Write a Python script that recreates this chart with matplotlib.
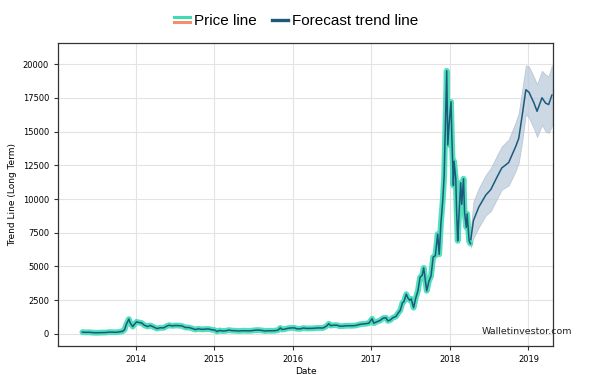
import pandas as pd
import matplotlib
matplotlib.use("Agg")
import matplotlib.pyplot as plt
import matplotlib.dates as mdates
from matplotlib.lines import Line2D
from matplotlib.legend_handler import HandlerBase

# historical price (USD)
price_dates = [
    "2013-04-28", "2013-05-15", "2013-06-01", "2013-06-15", "2013-07-01", "2013-07-15",
    "2013-08-01", "2013-08-15", "2013-09-01", "2013-09-15", "2013-10-01", "2013-10-15",
    "2013-11-01", "2013-11-10", "2013-11-18", "2013-11-30", "2013-12-07", "2013-12-18",
    "2013-12-25", "2014-01-05", "2014-01-15", "2014-01-28", "2014-02-10", "2014-02-25",
    "2014-03-10", "2014-03-25", "2014-04-10", "2014-04-25", "2014-05-10", "2014-05-25",
    "2014-06-05", "2014-06-20", "2014-07-05", "2014-07-20", "2014-08-05", "2014-08-20",
    "2014-09-05", "2014-09-20", "2014-10-05", "2014-10-20", "2014-11-05", "2014-11-20",
    "2014-12-05", "2014-12-20", "2015-01-05", "2015-01-14", "2015-01-25", "2015-02-10",
    "2015-02-25", "2015-03-10", "2015-03-25", "2015-04-10", "2015-04-25", "2015-05-10",
    "2015-05-25", "2015-06-10", "2015-06-25", "2015-07-10", "2015-07-25", "2015-08-10",
    "2015-08-25", "2015-09-10", "2015-09-25", "2015-10-10", "2015-10-25", "2015-11-04",
    "2015-11-12", "2015-11-25", "2015-12-10", "2015-12-25", "2016-01-10", "2016-01-20",
    "2016-02-05", "2016-02-20", "2016-03-05", "2016-03-20", "2016-04-05", "2016-04-20",
    "2016-05-05", "2016-05-20", "2016-06-05", "2016-06-17", "2016-06-25", "2016-07-10",
    "2016-07-25", "2016-08-05", "2016-08-20", "2016-09-05", "2016-09-20", "2016-10-05",
    "2016-10-20", "2016-11-05", "2016-11-20", "2016-12-05", "2016-12-20", "2017-01-04",
    "2017-01-12", "2017-01-25", "2017-02-10", "2017-02-25", "2017-03-10", "2017-03-18",
    "2017-03-30", "2017-04-10", "2017-04-25", "2017-05-05", "2017-05-15", "2017-05-25",
    "2017-06-01", "2017-06-12", "2017-06-20", "2017-06-28", "2017-07-05", "2017-07-16",
    "2017-07-25", "2017-08-05", "2017-08-15", "2017-08-25", "2017-09-01", "2017-09-15",
    "2017-09-25", "2017-10-05", "2017-10-15", "2017-10-25", "2017-11-05", "2017-11-12",
    "2017-11-20", "2017-11-29", "2017-12-05", "2017-12-10", "2017-12-17", "2017-12-22",
    "2017-12-28", "2018-01-06", "2018-01-10", "2018-01-17", "2018-01-20", "2018-01-28",
    "2018-02-01", "2018-02-06", "2018-02-10", "2018-02-20", "2018-02-25", "2018-03-05",
    "2018-03-10", "2018-03-18", "2018-03-22", "2018-03-31", "2018-04-06",
]
price_values = [
    135, 120, 125, 100, 90, 95,
    105, 110, 140, 135, 125, 150,
    200, 320, 700, 1100, 800, 550,
    700, 900, 850, 820, 650, 550,
    630, 520, 400, 460, 450, 580,
    650, 600, 630, 620, 590, 480,
    480, 410, 330, 380, 340, 360,
    370, 320, 280, 180, 260, 220,
    240, 290, 250, 240, 220, 240,
    240, 230, 245, 280, 290, 265,
    220, 240, 235, 245, 285, 450,
    330, 360, 420, 450, 450, 380,
    385, 440, 410, 410, 420, 440,
    450, 440, 570, 760, 620, 650,
    650, 580, 580, 610, 610, 610,
    630, 700, 740, 760, 800, 1130,
    800, 900, 1000, 1180, 1200, 970,
    1040, 1200, 1300, 1550, 1750, 2300,
    2400, 2950, 2650, 2500, 2600, 1950,
    2600, 3200, 4200, 4350, 4900, 3200,
    3900, 4300, 5700, 5800, 7400, 5900,
    8200, 10000, 11700, 15000, 19500, 14000,
    15500, 17200, 14500, 11000, 12800, 11500,
    9100, 6900, 8200, 11200, 9600, 11500,
    9000, 7900, 8900, 6900, 6700,
]

# forecast trend with confidence band
fc_dates = [
    "2018-04-08", "2018-04-20", "2018-05-15", "2018-06-17", "2018-07-10", "2018-08-07",
    "2018-08-30", "2018-10-01", "2018-11-03", "2018-11-17", "2018-12-02", "2018-12-20",
    "2019-01-04", "2019-01-27", "2019-02-10", "2019-03-05", "2019-03-22", "2019-04-05",
    "2019-04-20",
]
fc_values = [
    7000, 8400, 9400, 10300, 10700, 11600,
    12300, 12700, 13900, 14500, 16100, 18100,
    17900, 17100, 16500, 17500, 17100, 17000,
    17700,
]
fc_upper = [
    7800, 9800, 10800, 11800, 12300, 13200,
    13900, 14400, 15700, 16400, 18000, 19900,
    19800, 19000, 18500, 19500, 19200, 19100,
    19900,
]
fc_lower = [
    6400, 7100, 7900, 8800, 9100, 10000,
    10700, 11000, 12100, 12700, 14200, 16300,
    16000, 15200, 14600, 15500, 15000, 14900,
    15400,
]

TEAL = "#3fdcb4"
DARK = "#1c5a7c"
SALMON = "#f28f6c"


class TwoLineHandler(HandlerBase):
    # legend key with two stacked strokes
    def create_artists(self, legend, orig_handle, xdescent, ydescent,
                       width, height, fontsize, trans):
        x = [-xdescent, width - xdescent]
        top = Line2D(x, [0.78 * height] * 2, color=TEAL, lw=2.2)
        bot = Line2D(x, [0.25 * height] * 2, color=SALMON, lw=2.2)
        top.set_transform(trans)
        bot.set_transform(trans)
        return [top, bot]


pd_price = pd.to_datetime(price_dates)
pd_fc = pd.to_datetime(fc_dates)

fig = plt.figure(figsize=(6.05, 3.75), dpi=100)
ax = fig.add_axes([0.096, 0.077, 0.818, 0.808])

ax.fill_between(pd_fc, fc_lower, fc_upper, color="#b7c8d8", alpha=0.7, lw=0.6,
                edgecolor="#a9bccd", zorder=2)
glow, = ax.plot(pd_price, price_values, color=TEAL, lw=4.2, alpha=0.9,
                solid_capstyle="round", zorder=3)
ax.plot(pd_price, price_values, color=DARK, lw=1.1, zorder=4)
fc_line, = ax.plot(pd_fc, fc_values, color=DARK, lw=1.1, zorder=4)

ax.set_xlim(pd.Timestamp("2013-01-05"), pd.Timestamp("2019-04-25"))
ax.set_ylim(-900, 21550)
ax.set_yticks(range(0, 20001, 2500))
ax.xaxis.set_major_locator(mdates.YearLocator())
ax.xaxis.set_major_formatter(mdates.DateFormatter("%Y"))
ax.tick_params(labelsize=6, length=3, width=0.8, color="#333333")
ax.grid(True, color="#e3e3e3", lw=0.8)
ax.set_axisbelow(True)
for s in ax.spines.values():
    s.set_color("#333333")
    s.set_linewidth(0.9)

ax.set_xlabel("Date", fontsize=6.5, labelpad=2)
ax.set_ylabel("Trend Line (Long Term)", fontsize=6.5, labelpad=4)

fig.text(0.797, 0.115, "Walletinvestor.com", fontsize=6.8, color="#222222",
         va="center", ha="left")

legend_key = Line2D([], [], color=DARK, lw=2.4)
fig.legend([glow, legend_key], ["Price line", "Forecast trend line"],
           handler_map={glow: TwoLineHandler()},
           loc="center", bbox_to_anchor=(0.49, 0.944), ncol=2, frameon=False,
           prop={"family": "Liberation Sans", "size": 11},
           handlelength=1.0, handletextpad=0.3, columnspacing=1.0)

fig.savefig("out.png", dpi=100)
